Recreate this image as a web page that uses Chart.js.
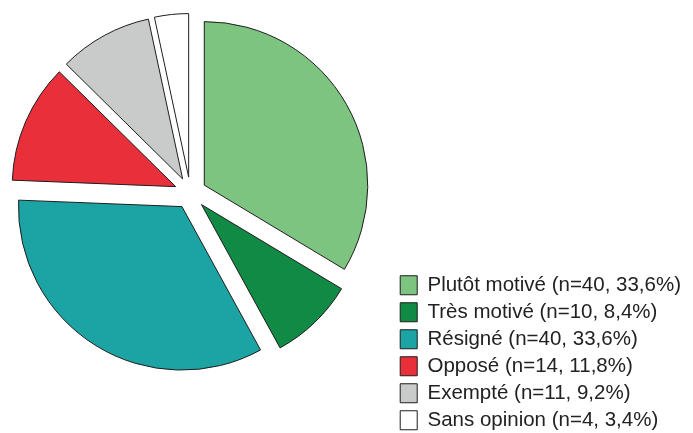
<!DOCTYPE html>
<html>
<head>
<meta charset="utf-8">
<script src="https://cdn.jsdelivr.net/npm/chart.js@4"></script>
<style>
  body { margin: 0; background: #fff; }
  #page { width: 693px; height: 433px; position: relative; overflow: hidden; }
  /* zone du graphique décalée pour placer le camembert et la légende */
  #wrap { position: absolute; left: -13px; top: -51px; width: 704px; height: 488px; }
</style>
</head>
<body>
<div id="page"><div id="wrap"><canvas id="pieChart"></canvas></div></div>
<script>
// Données
const categories = ['Plutôt motivé', 'Très motivé', 'Résigné', 'Opposé', 'Exempté', 'Sans opinion'];
const counts = [40, 10, 40, 14, 11, 4];
const colors = ['#7cc47f', '#108a45', '#1ca3a3', '#e82f3a', '#c9caca', '#ffffff'];

// écart des parts éclatées (px)
const explodeDist = 16;

const total = counts.reduce((a, b) => a + b, 0);
const labels = categories.map((c, i) => {
    const pct = (counts[i] / total * 100).toFixed(1).replace('.', ',');
    return c + ' (n=' + counts[i] + ', ' + pct + '%)';
});

// décale chaque part le long de sa bissectrice
const explode = {
    id: 'explode',
    afterDatasetsUpdate(chart) {
        chart.getDatasetMeta(0).data.forEach(arc => {
            const mid = (arc.startAngle + arc.endAngle) / 2;
            arc.x += Math.cos(mid) * explodeDist;
            arc.y += Math.sin(mid) * explodeDist;
        });
    }
};

document.addEventListener("DOMContentLoaded", function() {
    const ctx = document.getElementById('pieChart').getContext('2d');

    new Chart(ctx, {
        type: 'pie',
        data: {
            labels: labels,
            datasets: [{
                data: counts,
                backgroundColor: colors,
                borderColor: '#1e1e1e',
                borderWidth: 1,
                borderJoinStyle: 'miter',
                radius: 163.5
            }]
        },
        options: {
            responsive: true,
            maintainAspectRatio: false,
            animation: false,
            events: [],
            layout: { padding: 0 },
            plugins: {
                tooltip: { enabled: false },
                legend: {
                    position: 'right',
                    align: 'end',
                    labels: {
                        boxWidth: 17,
                        boxHeight: 19,
                        padding: 6.5,
                        color: '#222',
                        font: { family: 'Liberation Sans', size: 20.5 }
                    }
                }
            }
        },
        plugins: [explode]
    });
});
</script>
</body>
</html>
